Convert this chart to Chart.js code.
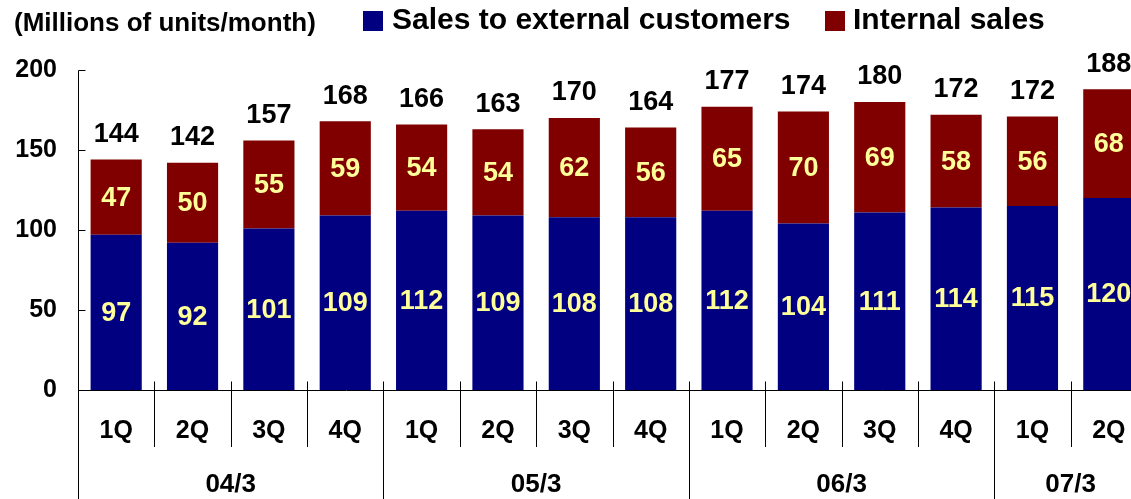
<!DOCTYPE html>
<html>
<head>
<meta charset="utf-8">
<script src="https://cdn.jsdelivr.net/npm/chart.js@4/dist/chart.umd.min.js"></script>
<style>
  html, body { margin: 0; padding: 0; background: #fff; overflow: hidden; }
  #wrap { position: relative; width: 1150px; height: 499px; }
</style>
</head>
<body>
<div id="wrap"><canvas id="units-chart"></canvas></div>
<script>
(function() {
	'use strict';

	// quarters and fiscal years
	var quarters = ['1Q', '2Q', '3Q', '4Q', '1Q', '2Q', '3Q', '4Q', '1Q', '2Q', '3Q', '4Q', '1Q', '2Q'];
	var years = ['04/3', '05/3', '06/3', '07/3'];
	var yearSpans = [4, 4, 4, 2];

	// millions of units / month
	var external = [97, 92, 101, 109, 112, 109, 108, 108, 112, 104, 111, 114, 115, 120];
	var internal = [47, 50, 55, 59, 54, 54, 62, 56, 65, 70, 69, 58, 56, 68];
	var totals = [144, 142, 157, 168, 166, 163, 170, 164, 177, 174, 180, 172, 172, 188];

	var yTicks = [0, 50, 100, 150, 200];

	var FONT = 'bold 27px "Liberation Sans", Arial, sans-serif';

	var decorations = {
		id: 'decorations',
		afterDraw: function(chart) {
			var c = chart.ctx;
			var area = chart.chartArea;
			var x = chart.scales.x;
			var y = chart.scales.y;
			var base = Math.round(y.getPixelForValue(0)) + 0.5;
			var left = Math.round(area.left) + 0.5;
			var half = (x.getPixelForValue(1) - x.getPixelForValue(0)) / 2;

			c.save();
			c.strokeStyle = '#000';
			c.lineWidth = 1;

			// axes
			c.beginPath();
			c.moveTo(left, Math.round(y.getPixelForValue(200)) + 0.5);
			c.lineTo(left, chart.height);
			c.moveTo(left, base);
			c.lineTo(chart.width, base);
			yTicks.forEach(function(v) {
				var py = Math.round(y.getPixelForValue(v)) + 0.5;
				c.moveTo(left, py);
				c.lineTo(left + 7, py);
			});

			// quarter dividers and year dividers
			var idx = 0;
			var ends = {};
			yearSpans.forEach(function(n) { idx += n; ends[idx] = true; });
			for (var i = 1; i < quarters.length; i++) {
				var bx = Math.round(x.getPixelForValue(i) - half) + 0.5;
				c.moveTo(bx, base - 9);
				c.lineTo(bx, ends[i] ? chart.height : 447);
			}
			c.stroke();

			// y tick labels
			c.fillStyle = '#000';
			c.font = 'bold 25px "Liberation Sans", Arial, sans-serif';
			c.textAlign = 'right';
			c.textBaseline = 'middle';
			yTicks.forEach(function(v) {
				c.fillText(String(v), 57, y.getPixelForValue(v));
			});

			// category labels
			c.textAlign = 'center';
			c.font = 'bold 25px "Liberation Sans", Arial, sans-serif';
			quarters.forEach(function(q, i) {
				c.fillText(q, x.getPixelForValue(i), 431);
			});
			c.font = 'bold 26px "Liberation Sans", Arial, sans-serif';
			var start = 0;
			years.forEach(function(yr, k) {
				var end = start + yearSpans[k] - 1;
				var cx = (x.getPixelForValue(start) + x.getPixelForValue(end)) / 2;
				c.fillText(yr, cx, 485);
				start = end + 1;
			});

			// values inside segments and totals on top
			c.font = FONT;
			var m0 = chart.getDatasetMeta(0);
			var m1 = chart.getDatasetMeta(1);
			m0.data.forEach(function(bar, i) {
				c.fillStyle = '#ffff99';
				c.fillText(String(external[i]), bar.x, (bar.y + bar.base) / 2 + 1);
				var top = m1.data[i];
				c.fillText(String(internal[i]), top.x, (top.y + top.base) / 2 + 1);
				c.fillStyle = '#000';
				c.fillText(String(totals[i]), top.x, top.y - 25);
			});

			// legend
			c.textAlign = 'left';
			c.fillStyle = '#000';
			c.font = 'bold 26px "Liberation Sans", Arial, sans-serif';
			c.fillText('(Millions of units/month)', 14, 24);
			var items = [[363, 392], [825, 853]];
			c.font = 'bold 30px "Liberation Sans", Arial, sans-serif';
			chart.data.datasets.forEach(function(ds, k) {
				c.fillStyle = ds.backgroundColor;
				c.fillRect(items[k][0], 11, 20, 20);
				c.fillStyle = '#000';
				c.fillText(ds.label, items[k][1], 21);
			});
			c.restore();
		}
	};

	var ctx = document.getElementById('units-chart');

	new Chart(ctx, {
		type: 'bar',
		data: {
			labels: quarters,
			datasets: [
				{
					label: 'Sales to external customers',
					data: external,
					backgroundColor: '#000080',
					barPercentage: 0.67,
					categoryPercentage: 1
				},
				{
					label: 'Internal sales',
					data: internal,
					backgroundColor: '#800000',
					barPercentage: 0.67,
					categoryPercentage: 1
				}
			]
		},
		options: {
			responsive: true,
			maintainAspectRatio: false,
			animation: false,
			layout: { padding: { left: 78, right: 3, top: 70, bottom: 109 } },
			plugins: { legend: { display: false }, tooltip: { enabled: false } },
			scales: {
				x: { stacked: true, display: false },
				y: { stacked: true, display: false, min: 0, max: 200, ticks: { stepSize: 50 } }
			}
		},
		plugins: [decorations]
	});

})();
</script>
</body>
</html>
